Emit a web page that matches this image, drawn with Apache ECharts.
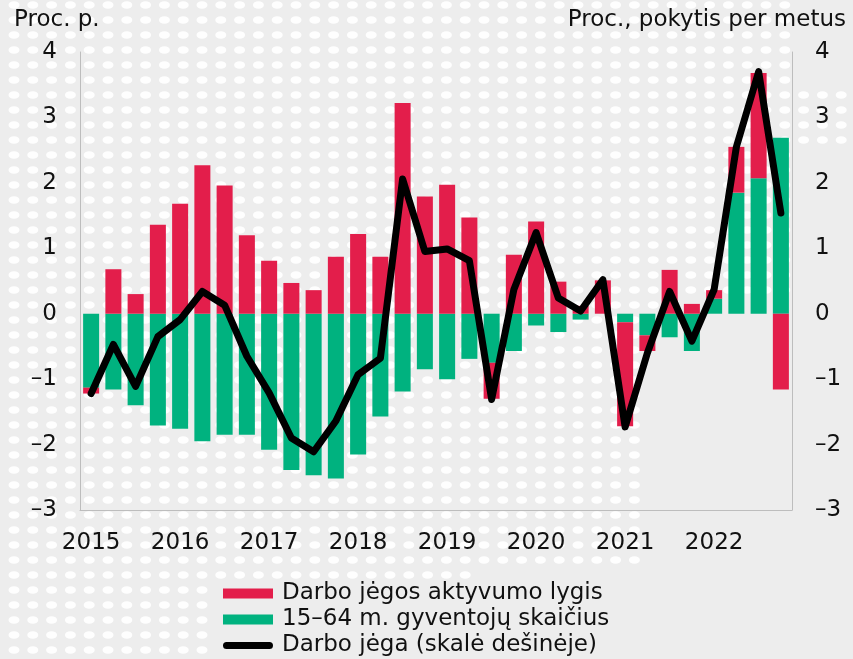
<!DOCTYPE html>
<html>
<head>
<meta charset="utf-8">
<script src="https://cdn.jsdelivr.net/npm/echarts@6/dist/echarts.min.js"></script>
<style>
  html, body { margin: 0; padding: 0; background: #ededed; }
  #chart { width: 853px; height: 659px; }
</style>
</head>
<body>
<div id="chart"></div>
<script>
// quarters 2015 I - 2022 IV
const categories = []
for (let y = 2015; y <= 2022; y++) {
  ['I', 'II', 'III', 'IV'].forEach(q => categories.push(y + ' ' + q))
}

// Darbo jėgos aktyvumo lygis (proc. p.)
const activityRate = [-0.09, 0.68, 0.30, 1.36, 1.68, 2.27, 1.96, 1.20, 0.81, 0.47, 0.36, 0.87, 1.22, 0.87, 3.22, 1.79,
  1.97, 1.47, -0.55, 0.90, 1.41, 0.49, 0.12, 0.51, -1.59, -0.24, 0.67, 0.15, 0.13, 0.70, 1.61, -1.16]

// 15–64 m. gyventojų skaičius (proc. p.)
const population = [-1.13, -1.16, -1.40, -1.71, -1.76, -1.95, -1.85, -1.85, -2.08, -2.39, -2.47, -2.52, -2.15, -1.57, -1.19, -0.85,
  -1.00, -0.69, -0.75, -0.57, -0.18, -0.28, -0.09, 0, -0.13, -0.33, -0.36, -0.57, 0.23, 1.85, 2.07, 2.69]

// Darbo jėga (proc., pokytis per metus) – right scale
const labourForce = [-1.22, -0.47, -1.11, -0.35, -0.09, 0.34, 0.13, -0.65, -1.21, -1.90, -2.11, -1.64, -0.93, -0.68, 2.06, 0.95,
  0.99, 0.81, -1.31, 0.37, 1.24, 0.24, 0.04, 0.52, -1.73, -0.60, 0.34, -0.42, 0.37, 2.55, 3.70, 1.54]

const yTicks = { min: -3, max: 4, interval: 1 }

const RED = '#e31e4b'
const GREEN = '#00b27f'
const FONT = 'DejaVu Sans'
const TXT = '#111'

// dotted backdrop
function makeBackdrop(w, h) {
  const c = document.createElement('canvas')
  c.width = w
  c.height = h
  const ctx = c.getContext('2d')
  ctx.fillStyle = '#ededed'
  ctx.fillRect(0, 0, w, h)
  ctx.fillStyle = 'rgba(255,255,255,0.95)'
  for (let y = 5; y < h; y += 15) {
    for (let x = 14; x < w; x += 18.8) {
      if (x > 640 && y > 320) continue
      if (x > 690 && y > 300) continue
      if (y > 560 && x > 470) continue
      if (y > 580 && x > 215) continue
      if (x > 800 && (y < 95 || y > 140)) continue
      ctx.beginPath()
      ctx.ellipse(x, y, 5.5, 3.8, 0, 0, Math.PI * 2)
      ctx.fill()
    }
  }
  return c
}

const minus = v => (v < 0 ? '–' + (-v) : String(v))

const chart = echarts.init(document.getElementById('chart'))
chart.setOption({
  animation: false,
  backgroundColor: '#ededed',
  textStyle: { fontFamily: FONT },
  graphic: [{
    type: 'image',
    left: 0,
    top: 0,
    z: -10,
    silent: true,
    style: { image: makeBackdrop(853, 659), width: 853, height: 659 }
  }],
  title: [
    {
      text: 'Proc. p.',
      left: 9,
      top: 4,
      textStyle: { fontFamily: FONT, fontSize: 23, fontWeight: 'normal', color: TXT }
    },
    {
      text: 'Proc., pokytis per metus',
      right: 2,
      top: 4,
      textStyle: { fontFamily: FONT, fontSize: 23, fontWeight: 'normal', color: TXT }
    }
  ],
  legend: {
    orient: 'vertical',
    left: 223,
    top: 582,
    padding: 0,
    itemWidth: 50,
    itemHeight: 10,
    itemGap: 3,
    data: [
      { name: 'Darbo jėgos aktyvumo lygis', icon: 'rect' },
      { name: '15–64 m. gyventojų skaičius', icon: 'rect' },
      {
        name: 'Darbo jėga (skalė dešinėje)',
        icon: 'path://M4,0 L52,0 A4,4 0 0 1 52,8 L4,8 A4,4 0 0 1 4,0 Z'
      }
    ],
    textStyle: { fontFamily: FONT, fontSize: 23, color: TXT, padding: [0, 0, 0, 4] }
  },
  grid: {
    left: 80,
    right: 61,
    top: 52,
    bottom: 149
  },
  xAxis: {
    type: 'category',
    data: categories,
    axisLine: { onZero: false, lineStyle: { color: '#bdbdbd', width: 1 } },
    axisTick: { show: false },
    axisLabel: {
      interval: 3,
      margin: 22,
      fontFamily: FONT,
      fontSize: 23,
      color: TXT,
      formatter: v => v.slice(0, 4)
    }
  },
  yAxis: [
    {
      type: 'value',
      min: yTicks.min,
      max: yTicks.max,
      interval: yTicks.interval,
      axisLine: { show: true, lineStyle: { color: '#bdbdbd', width: 1 } },
      axisTick: { show: false },
      splitLine: { show: false },
      axisLabel: { margin: 23, fontFamily: FONT, fontSize: 23, color: TXT, formatter: minus }
    },
    {
      type: 'value',
      min: yTicks.min,
      max: yTicks.max,
      interval: yTicks.interval,
      position: 'right',
      axisLine: { show: true, lineStyle: { color: '#bdbdbd', width: 1 } },
      axisTick: { show: false },
      splitLine: { show: false },
      axisLabel: { margin: 23, fontFamily: FONT, fontSize: 23, color: TXT, formatter: minus }
    }
  ],
  series: [
    {
      name: '15–64 m. gyventojų skaičius',
      type: 'bar',
      stack: 'total',
      barCategoryGap: '28%',
      itemStyle: { color: GREEN },
      data: population
    },
    {
      name: 'Darbo jėgos aktyvumo lygis',
      type: 'bar',
      stack: 'total',
      barCategoryGap: '28%',
      itemStyle: { color: RED },
      data: activityRate
    },
    {
      name: 'Darbo jėga (skalė dešinėje)',
      type: 'line',
      yAxisIndex: 1,
      symbol: 'none',
      z: 5,
      itemStyle: { color: '#000' },
      lineStyle: { color: '#000', width: 7, cap: 'round', join: 'round' },
      data: labourForce
    }
  ]
})
</script>
</body>
</html>
